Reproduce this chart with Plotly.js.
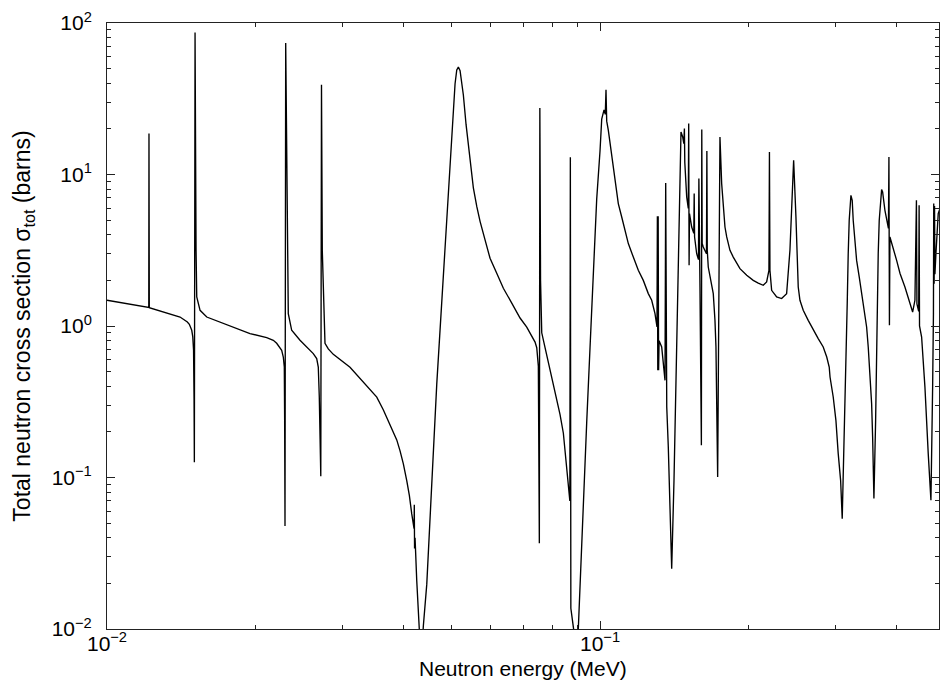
<!DOCTYPE html>
<html>
<head>
<meta charset="utf-8">
<script src="https://cdn.plot.ly/plotly-3.0.1.min.js"></script>
<style>html,body{margin:0;padding:0;background:#fff;}</style>
</head>
<body>
<div id="chart" style="width:940px;height:692px;"></div>
<script>
// Neutron energy (MeV) for each traced point of the curve
var energy_MeV = [
  0.01000, 0.012155, 0.012166, 0.012183, 0.014066, 0.014399, 0.014554, 0.014690, 0.014856, 0.014926,
  0.014982, 0.015017, 0.015038, 0.015087, 0.015115, 0.015158, 0.015207, 0.015444, 0.015935, 0.018042,
  0.019500, 0.021083, 0.021743, 0.022089, 0.022612, 0.022782, 0.022889, 0.022927, 0.022964, 0.023039,
  0.023125, 0.023233, 0.023320, 0.023693, 0.024632, 0.026207, 0.026628, 0.026827, 0.026953, 0.027142,
  0.027231, 0.027333, 0.027680, 0.028110, 0.028774, 0.031111, 0.033104, 0.035252, 0.036358, 0.037510,
  0.038700, 0.039301, 0.039913, 0.040551, 0.041047, 0.041509, 0.041958, 0.042007, 0.042056, 0.042154,
  0.042490, 0.042950, 0.043354, 0.043822, 0.044524, 0.046652, 0.048880, 0.050037, 0.050412, 0.050816,
  0.051221, 0.051605, 0.052017, 0.052823, 0.053492, 0.054071, 0.054679, 0.055348, 0.056234, 0.057108,
  0.058454, 0.059836, 0.061735, 0.063672, 0.066221, 0.068838, 0.071022, 0.072703, 0.073834, 0.074419,
  0.074977, 0.075328, 0.075504, 0.075751, 0.076177, 0.077360, 0.078891, 0.080418, 0.081707, 0.082976,
  0.084268, 0.084937, 0.085855, 0.086256, 0.086862, 0.087066, 0.087270, 0.088582, 0.089415, 0.090379,
  0.092517, 0.093982, 0.095441, 0.096925, 0.098471, 0.10000, 0.10080, 0.10189, 0.10250, 0.10284,
  0.10318, 0.10395, 0.10478, 0.10641, 0.10776, 0.10892, 0.11067, 0.11239, 0.11414, 0.11683,
  0.11959, 0.12241, 0.12530, 0.12730, 0.12928, 0.13049, 0.13073, 0.13098, 0.13122, 0.13147,
  0.13178, 0.13339, 0.13547, 0.13591, 0.13613, 0.13635, 0.13658, 0.13757, 0.13869, 0.13977,
  0.14128, 0.14307, 0.14482, 0.14597, 0.14713, 0.14790, 0.14831, 0.14859, 0.14991, 0.15104,
  0.15132, 0.15160, 0.15188, 0.15345, 0.15496, 0.15525, 0.15554, 0.15707, 0.15839, 0.15869,
  0.15898, 0.15950, 0.16055, 0.16085, 0.16115, 0.16198, 0.16442, 0.16472, 0.16503, 0.16580,
  0.16972, 0.17107, 0.17187, 0.17324, 0.17405, 0.17511, 0.17651, 0.17783, 0.17925, 0.18072,
  0.18348, 0.18634, 0.19225, 0.19842, 0.20456, 0.20939, 0.21434, 0.21777, 0.22012, 0.22063,
  0.22115, 0.22291, 0.22818, 0.23357, 0.23908, 0.24280, 0.24473, 0.24703, 0.24970, 0.25239,
  0.25442, 0.25835, 0.26445, 0.27070, 0.27708, 0.28363, 0.28833, 0.29169, 0.29280, 0.29720,
  0.30095, 0.30421, 0.30764, 0.30995, 0.31242, 0.31388, 0.31535, 0.31727, 0.31875, 0.32024,
  0.32280, 0.32476, 0.32628, 0.32889, 0.33151, 0.33557, 0.33934, 0.34300, 0.34737, 0.35000,
  0.35277, 0.35558, 0.35725, 0.35942, 0.36229, 0.36398, 0.36501, 0.36671, 0.36844, 0.37085,
  0.37258, 0.37432, 0.37837, 0.38461, 0.38551, 0.38641, 0.38731, 0.39963, 0.40603, 0.41543,
  0.42525, 0.43064, 0.43529, 0.43834, 0.43937, 0.44300, 0.44390, 0.44473, 0.44911, 0.45610,
  0.46319, 0.46907, 0.47280, 0.47460, 0.47524, 0.47613, 0.47702, 0.47790, 0.48014, 0.48533,
  0.48920, 0.49500
];

// Total neutron cross section (barns) at each energy above
var sigma_barns = [
  1.478, 1.324, 18.62, 1.320, 1.146, 1.090, 1.063, 1.026, 0.937, 0.850,
  0.691, 0.323, 0.126, 86.4, 14.44, 3.16, 1.554, 1.269, 1.146, 0.985,
  0.891, 0.838, 0.805, 0.769, 0.691, 0.624, 0.536, 0.2385, 0.0479, 73.8,
  14.44, 2.003, 1.207, 0.937, 0.805, 0.657, 0.609, 0.536, 0.340, 0.1018,
  39.1, 3.16, 0.769, 0.706, 0.650, 0.534, 0.425, 0.3395, 0.279, 0.2225,
  0.177, 0.1498, 0.123, 0.0954, 0.0762, 0.0575, 0.046, 0.066, 0.034, 0.040,
  0.0208, 0.0102, 0.006, 0.0105, 0.0197, 0.4135, 5.226, 18.06, 28.37, 39.7,
  49.0, 51.2, 48.4, 33.5, 21.4, 16.07, 11.47, 8.17, 6.16, 4.91,
  3.70, 2.80, 2.226, 1.774, 1.416, 1.129, 0.982, 0.855, 0.783, 0.719,
  0.542, 0.0368, 27.5, 2.0, 0.902, 0.719, 0.542, 0.4085, 0.326, 0.2602,
  0.196, 0.1478, 0.105, 0.0840, 0.070, 12.99, 0.0137, 0.0095, 0.006, 0.0102,
  0.0751, 0.232, 0.719, 2.226, 6.89, 14.3, 23.2, 26.7, 25.0, 36.3,
  22.5, 19.6, 16.0, 11.21, 8.49, 6.43, 5.24, 4.28, 3.50, 2.85,
  2.33, 2.00, 1.636, 1.478, 1.207, 0.985, 5.30, 0.51, 5.30, 0.51,
  0.80, 0.727, 0.438, 8.79, 0.292, 8.79, 0.292, 0.159, 0.0578, 0.0250,
  0.0958, 0.727, 5.52, 19.08, 17.68, 16.0, 20.1, 12.0, 7.10, 5.98,
  21.7, 2.52, 5.52, 4.50, 4.10, 7.48, 3.87, 3.00, 2.75, 9.40,
  2.59, 1.81, 0.163, 19.8, 3.5, 3.32, 3.0, 14.3, 3.16, 2.45,
  1.636, 1.09, 0.727, 0.1008, 0.727, 17.7, 8.71, 5.80, 4.50, 3.87,
  3.16, 2.85, 2.39, 2.16, 2.00, 1.92, 1.856, 1.952, 2.33, 14.08,
  2.33, 1.72, 1.554, 1.517, 1.636, 3.16, 6.76, 12.41, 5.24, 1.809,
  1.478, 1.269, 1.09, 0.937, 0.826, 0.727, 0.624, 0.536, 0.4605, 0.340,
  0.2385, 0.1438, 0.0958, 0.0535, 0.1438, 0.3075, 0.657, 1.406, 3.00, 4.986,
  7.29, 6.756, 4.99, 3.68, 2.71, 2.107, 1.636, 1.269, 0.985, 0.727,
  0.510, 0.3075, 0.185, 0.0726, 0.2385, 0.657, 1.809, 3.005, 4.99, 7.10,
  7.95, 7.66, 5.80, 4.41, 13.05, 1.011, 3.87, 2.71, 2.22, 1.809,
  1.406, 1.237, 1.478, 6.76, 1.40, 1.25, 6.26, 1.00, 0.846, 0.396,
  0.1438, 0.0707, 0.396, 1.2, 6.43, 1.90, 6.2, 2.2, 3.00, 5.52,
  5.96, 6.3
];

// Axis tick values and labels
var xTickVals = [0.01, 0.1];
var xTickText = ['10<sup>\u22122</sup>', '10<sup>\u22121</sup>'];
var yTickVals = [0.01, 0.1, 1, 10, 100];
var yTickText = ['10<sup>\u22122</sup>', '10<sup>\u22121</sup>', '10<sup>0</sup>', '10<sup>1</sup>', '10<sup>2</sup>'];
var xTitle = 'Neutron energy (MeV)';
var yTitle = 'Total neutron cross section \u03C3<sub>tot</sub> (barns)';

var FONT = 'Liberation Sans, Arial, Helvetica, sans-serif';
var AX = '#222';

var trace = {
  type: 'scatter',
  mode: 'lines',
  x: energy_MeV,
  y: sigma_barns,
  line: {color: '#000', width: 1.35},
  hoverinfo: 'x+y'
};

var axisCommon = {
  type: 'log',
  tickmode: 'array',
  ticks: 'inside',
  ticklen: 8,
  tickwidth: 1,
  tickcolor: AX,
  showline: true,
  linecolor: AX,
  linewidth: 1,
  mirror: 'allticks',
  showgrid: false,
  zeroline: false,
  automargin: false,
  tickfont: {family: FONT, size: 21, color: '#000'},
  minor: {ticks: 'inside', ticklen: 4, tickwidth: 1, tickcolor: AX, dtick: 'D1', showgrid: false}
};

var layout = {
  width: 940,
  height: 692,
  margin: {l: 107, r: 1, t: 23, b: 63, pad: 0},
  paper_bgcolor: '#fff',
  plot_bgcolor: '#fff',
  showlegend: false,
  font: {family: FONT, color: '#000', size: 21},
  xaxis: Object.assign({}, axisCommon, {
    range: [-2, -0.3124],
    tickvals: xTickVals,
    ticktext: xTickText,
    ticklabelstandoff: -4
  }),
  yaxis: Object.assign({}, axisCommon, {
    range: [-2, 2],
    tickvals: yTickVals,
    ticktext: yTickText,
    ticklabelstandoff: 10,
    title: {text: yTitle, font: {family: FONT, size: 23, color: '#000'}, standoff: 14}
  }),
  annotations: [{
    text: xTitle,
    xref: 'paper', yref: 'paper',
    x: 0.5, y: -0.0644,
    xanchor: 'center', yanchor: 'middle',
    showarrow: false,
    font: {family: FONT, size: 21, color: '#000'}
  }]
};

Plotly.newPlot('chart', [trace], layout, {displayModeBar: false, staticPlot: true});
</script>
</body>
</html>
